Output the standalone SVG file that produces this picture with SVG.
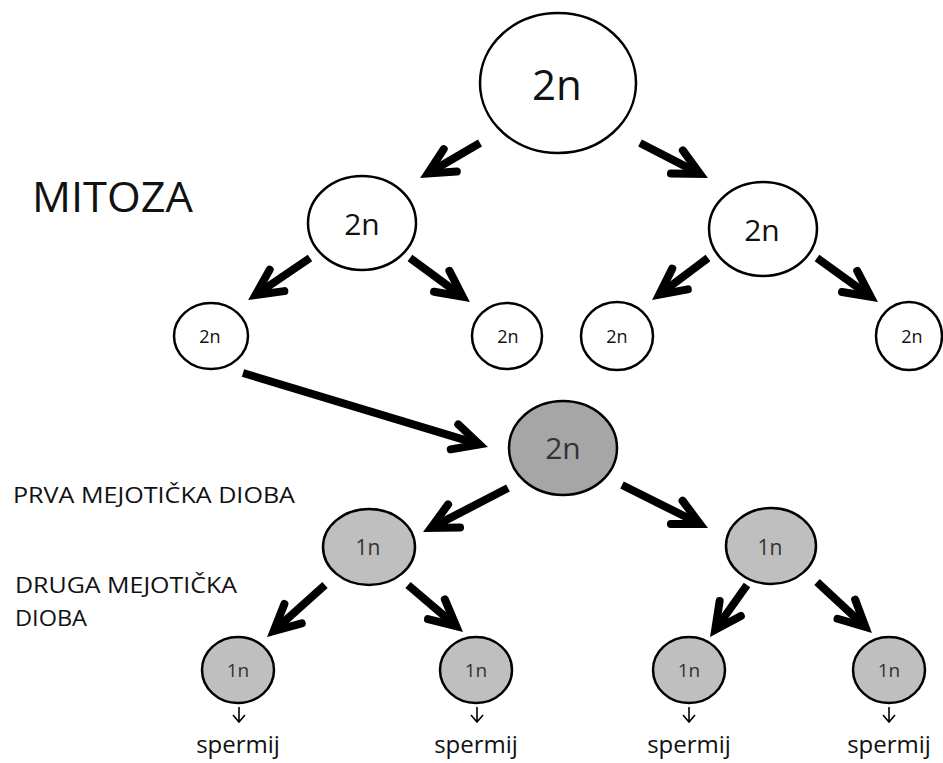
<svg xmlns="http://www.w3.org/2000/svg" width="943" height="763" viewBox="0 0 943 763">
<style>
  .c { fill: #ffffff; stroke: #000000; stroke-width: 2.5; }
  .g2 { fill: #a6a6a6; stroke: #000000; stroke-width: 2.5; }
  .g1 { fill: #bfbfbf; stroke: #000000; stroke-width: 2.5; }
  text { font-family: "Open Sans", "Noto Sans", sans-serif; text-anchor: middle; fill: #111111; }
  .gt { fill: #333333; }
  .lbl { text-anchor: start; fill: #111111; }
  .arr { stroke: #000000; stroke-width: 8; fill: none; marker-end: url(#ah); }
  .small { stroke: #000000; stroke-width: 1.6; fill: none; }
</style>
<defs>
  <marker id="ah" markerUnits="userSpaceOnUse" viewBox="-40 -20 50 40" refX="0" refY="0" markerWidth="50" markerHeight="40" orient="auto" overflow="visible">
    <path d="M-26,-13 L0,0 L-26,13" fill="none" stroke="#000000" stroke-width="8" stroke-linejoin="miter" stroke-linecap="round"/>
  </marker>
</defs>
<rect x="0" y="0" width="943" height="763" fill="#ffffff"/>

<g id="labels">
  <text class="lbl" x="32" y="212" font-size="42" textLength="161" lengthAdjust="spacingAndGlyphs">MITOZA</text>
  <text class="lbl" x="13" y="503" font-size="21" textLength="282" lengthAdjust="spacingAndGlyphs">PRVA MEJOTIČKA DIOBA</text>
  <text class="lbl" x="15" y="593" font-size="21" textLength="222" lengthAdjust="spacingAndGlyphs">DRUGA MEJOTIČKA</text>
  <text class="lbl" x="15" y="626" font-size="21" textLength="72" lengthAdjust="spacingAndGlyphs">DIOBA</text>
</g>

<g id="connectors">
  <line class="arr" x1="480" y1="143" x2="427.8" y2="173.5"/>
  <line class="arr" x1="640" y1="143" x2="700" y2="173.9"/>
  <line class="arr" x1="310" y1="258" x2="255.5" y2="295"/>
  <line class="arr" x1="410" y1="258" x2="462.7" y2="296.7"/>
  <line class="arr" x1="708" y1="258" x2="659.2" y2="294.6"/>
  <line class="arr" x1="817" y1="258" x2="870.7" y2="296.7"/>
  <line class="arr" x1="243" y1="373" x2="479.4" y2="444.4" stroke-width="7"/>
  <line class="arr" x1="508" y1="488" x2="431" y2="527.9"/>
  <line class="arr" x1="622" y1="485" x2="700" y2="524"/>
  <line class="arr" x1="325" y1="585" x2="273.7" y2="631"/>
  <line class="arr" x1="408" y1="585" x2="456.2" y2="626.1"/>
  <line class="arr" x1="747" y1="585" x2="715.2" y2="629.7"/>
  <line class="arr" x1="817" y1="582" x2="865.4" y2="626.9"/>
  <path class="small" d="M239,707 L239,722 M233,715 L239,722 L245,715"/>
  <path class="small" d="M477,707 L477,722 M471,715 L477,722 L483,715"/>
  <path class="small" d="M689,707 L689,722 M683,715 L689,722 L695,715"/>
  <path class="small" d="M889,707 L889,722 M883,715 L889,722 L895,715"/>
</g>

<g id="n-top">
  <ellipse class="c" cx="558" cy="83" rx="78" ry="70"/>
  <text x="557" y="100" font-size="42">2n</text>
</g>
<g id="n-mid-left">
  <ellipse class="c" cx="362" cy="223" rx="54" ry="47"/>
  <text x="362" y="235" font-size="30">2n</text>
</g>
<g id="n-mid-right">
  <ellipse class="c" cx="763" cy="229" rx="54" ry="47"/>
  <text x="762" y="241" font-size="30">2n</text>
</g>
<g id="n-small-1">
  <ellipse class="c" cx="211" cy="336" rx="37" ry="33"/>
  <text x="210" y="343" font-size="18">2n</text>
</g>
<g id="n-small-2">
  <ellipse class="c" cx="507" cy="336" rx="35" ry="33"/>
  <text x="508" y="343" font-size="18">2n</text>
</g>
<g id="n-small-3">
  <ellipse class="c" cx="617" cy="336" rx="36" ry="34"/>
  <text x="617" y="343" font-size="18">2n</text>
</g>
<g id="n-small-4">
  <ellipse class="c" cx="909" cy="336" rx="33" ry="34"/>
  <text x="912" y="343" font-size="18">2n</text>
</g>
<g id="n-grey-2n">
  <ellipse class="g2" cx="563" cy="448" rx="54" ry="47"/>
  <text class="gt" x="563" y="459" font-size="30">2n</text>
</g>
<g id="n-1n-left">
  <ellipse class="g1" cx="369" cy="547" rx="46" ry="38"/>
  <text class="gt" x="368" y="555" font-size="21">1n</text>
</g>
<g id="n-1n-right">
  <ellipse class="g1" cx="771" cy="546" rx="45" ry="38"/>
  <text class="gt" x="770" y="555" font-size="21">1n</text>
</g>
<g id="n-b1">
  <ellipse class="g1" cx="238" cy="670" rx="36" ry="33"/>
  <text class="gt" x="238" y="677" font-size="19">1n</text>
  <text x="238" y="753" font-size="24">spermij</text>
</g>
<g id="n-b2">
  <ellipse class="g1" cx="476" cy="670" rx="36" ry="33"/>
  <text class="gt" x="476" y="677" font-size="19">1n</text>
  <text x="476" y="753" font-size="24">spermij</text>
</g>
<g id="n-b3">
  <ellipse class="g1" cx="689" cy="670" rx="36" ry="33"/>
  <text class="gt" x="689" y="677" font-size="19">1n</text>
  <text x="689" y="753" font-size="24">spermij</text>
</g>
<g id="n-b4">
  <ellipse class="g1" cx="889" cy="670" rx="36" ry="33"/>
  <text class="gt" x="889" y="677" font-size="19">1n</text>
  <text x="889" y="753" font-size="24">spermij</text>
</g>
</svg>
